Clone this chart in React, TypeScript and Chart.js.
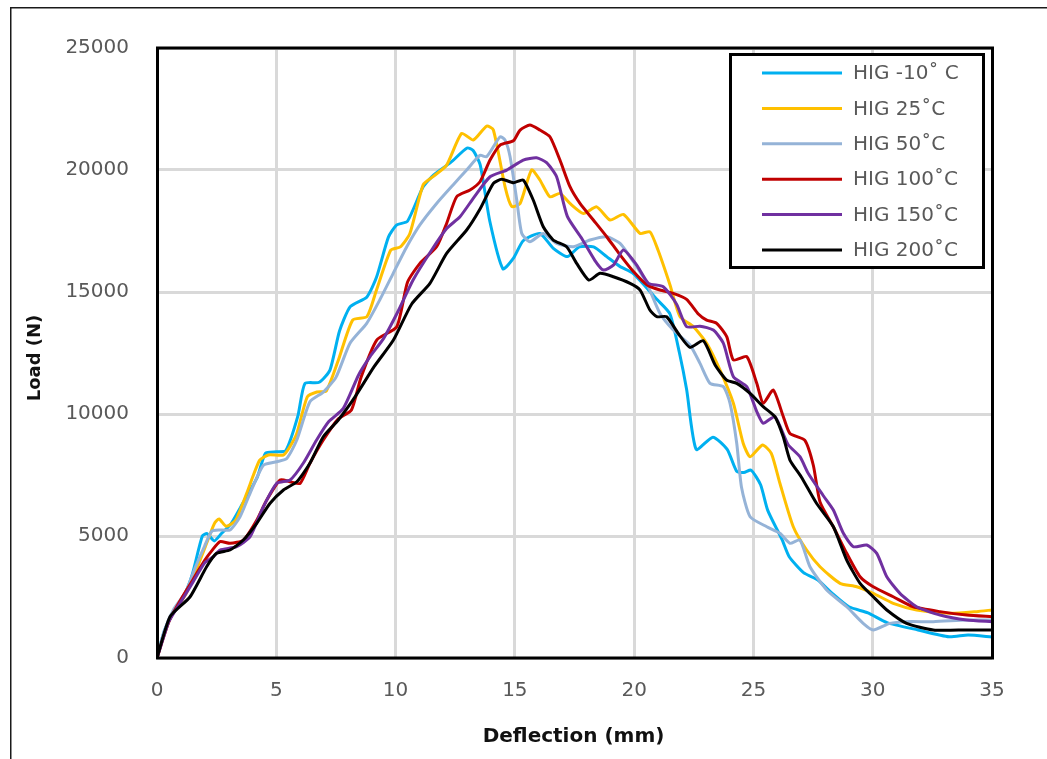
import React, { useEffect, useRef } from "react";
import { Chart, registerables } from "chart.js";

Chart.register(...registerables);

const W = 1047;
const H = 759;

// Axis ranges / ticks
const xTickValues = [0, 5, 10, 15, 20, 25, 30, 35];
const yTickValues = [0, 5000, 10000, 15000, 20000, 25000];

// Series
const seriesNames = ["HIG -10˚ C", "HIG 25˚C", "HIG 50˚C", "HIG 100˚C", "HIG 150˚C", "HIG 200˚C"];
const seriesColors = ["#00b0f0", "#ffc000", "#95b3d7", "#c00000", "#7030a0", "#000000"];

const hig10X = [0, 0.3, 0.7, 1.2, 1.5, 1.9, 2.1, 2.4, 2.7, 3.1, 3.6, 4.2, 4.55, 5.0, 5.4, 5.9, 6.2, 6.8, 7.25, 7.65, 8.1, 8.8, 9.2, 9.7, 10.05, 10.5, 11.15, 11.6, 12.3, 13.0, 13.25, 13.55, 13.95, 14.5, 14.95, 15.35, 16.05, 16.6, 17.2, 17.7, 18.3, 18.85, 19.4, 19.95, 20.5, 20.95, 21.5, 21.9, 22.2, 22.6, 23.3, 23.9, 24.3, 24.6, 24.9, 25.3, 25.6, 26.2, 26.5, 27.1, 27.7, 28.3, 29.0, 29.8, 30.6, 31.9, 33.2, 34.0, 35.0];
const hig10Y = [0, 1100, 1900, 2700, 3500, 5000, 5100, 4800, 5100, 5500, 6350, 7400, 8400, 8450, 8500, 9900, 11250, 11300, 11800, 13400, 14400, 14800, 15600, 17250, 17750, 17900, 19300, 19800, 20300, 20900, 20800, 20200, 17900, 15950, 16400, 17100, 17400, 16800, 16450, 16850, 16850, 16450, 16050, 15770, 15200, 14700, 14100, 12500, 11000, 8550, 9050, 8550, 7650, 7600, 7700, 7100, 6050, 4850, 4150, 3500, 3200, 2650, 2100, 1850, 1450, 1150, 870, 940, 860];

const hig25X = [0, 0.3, 0.7, 1.2, 1.6, 2.0, 2.4, 2.6, 2.9, 3.3, 3.76, 4.3, 4.67, 5.3, 5.57, 5.86, 6.3, 6.7, 7.1, 7.6, 8.2, 8.8, 9.2, 9.8, 10.2, 10.6, 11.16, 11.6, 12.14, 12.77, 13.26, 13.82, 14.1, 14.59, 14.87, 15.22, 15.7, 16.05, 16.47, 16.89, 17.31, 17.87, 18.43, 18.99, 19.55, 20.25, 20.66, 21.0, 21.5, 21.92, 22.48, 23.04, 23.6, 24.16, 24.57, 24.86, 25.38, 25.75, 26.11, 26.67, 27.23, 27.79, 28.63, 29.33, 30.02, 30.86, 31.84, 33.24, 34.36, 35.0];
const hig25Y = [0, 1000, 1900, 2600, 3500, 4500, 5500, 5700, 5400, 5650, 6750, 8100, 8320, 8320, 8660, 9200, 10700, 10900, 10950, 12200, 13850, 13990, 15080, 16720, 16850, 17400, 19400, 19750, 20200, 21500, 21230, 21800, 21640, 19310, 18500, 18630, 20000, 19590, 18900, 19040, 18630, 18220, 18490, 17950, 18180, 17400, 17470, 16720, 15300, 13990, 13580, 12900, 11800, 10440, 8800, 8250, 8730, 8390, 7160, 5380, 4425, 3740, 3060, 2920, 2650, 2240, 1970, 1830, 1900, 1970];

const hig50X = [0, 0.3, 0.7, 1.2, 1.6, 2.0, 2.3, 2.6, 3.06, 3.48, 3.9, 4.46, 5.02, 5.44, 5.86, 6.41, 6.97, 7.5, 8.09, 8.79, 9.35, 9.9, 10.47, 11.02, 11.72, 12.42, 12.98, 13.54, 13.82, 14.38, 14.59, 14.8, 15.08, 15.29, 15.63, 16.19, 16.75, 17.45, 18.15, 18.85, 19.41, 19.96, 20.53, 21.08, 21.64, 22.34, 22.76, 23.18, 23.74, 24.02, 24.3, 24.5, 24.86, 25.56, 26.11, 26.53, 26.95, 27.37, 28.07, 28.91, 29.6, 30.02, 30.72, 31.42, 32.54, 33.94, 35.0];
const hig50Y = [0, 1100, 2000, 2700, 3700, 4600, 5200, 5250, 5250, 5790, 6750, 7900, 8045, 8180, 8933, 10500, 10900, 11500, 12900, 13716, 14700, 15765, 16855, 17750, 18630, 19400, 20000, 20600, 20545, 21363, 21227, 20545, 18770, 17400, 17060, 17400, 16990, 16855, 17130, 17265, 16990, 16250, 15355, 14126, 13440, 12830, 12076, 11257, 11120, 10437, 8800, 7000, 5790, 5380, 5110, 4700, 4835, 3740, 2787, 2100, 1420, 1150, 1420, 1490, 1490, 1557, 1557];

const hig100X = [0, 0.5, 1.0, 1.5, 2.0, 2.3, 2.64, 3.06, 3.62, 4.18, 4.6, 5.16, 5.58, 6.0, 6.41, 6.97, 7.6, 8.15, 8.55, 9.21, 10.05, 10.5, 11.02, 11.72, 12.14, 12.56, 13.12, 13.54, 13.96, 14.38, 14.94, 15.22, 15.63, 16.05, 16.47, 16.89, 17.31, 17.73, 18.29, 18.85, 19.41, 19.96, 20.53, 21.08, 21.64, 22.2, 22.69, 23.04, 23.46, 23.88, 24.16, 24.72, 25.14, 25.41, 25.83, 26.25, 26.53, 27.15, 27.51, 27.79, 28.35, 28.91, 29.47, 30.02, 30.86, 31.7, 32.82, 33.94, 35.0];
const hig100Y = [0, 1500, 2400, 3200, 4000, 4400, 4770, 4700, 4835, 5650, 6475, 7295, 7225, 7160, 7980, 8933, 9800, 10163, 11500, 13032, 13577, 15400, 16175, 16855, 17810, 18904, 19180, 19520, 20408, 21022, 21200, 21637, 21842, 21637, 21363, 20408, 19314, 18630, 17950, 17265, 16520, 15850, 15300, 15080, 14943, 14700, 14100, 13850, 13716, 13167, 12212, 12350, 11257, 10437, 10983, 9900, 9200, 8930, 7900, 6400, 5380, 4290, 3330, 2920, 2510, 2100, 1900, 1760, 1690];

const hig150X = [0, 0.5, 1.0, 1.5, 2.0, 2.36, 2.64, 3.34, 3.9, 4.46, 5.02, 5.58, 6.13, 6.69, 7.2, 7.81, 8.45, 8.93, 9.5, 10.1, 10.74, 11.5, 12.14, 12.7, 13.3, 13.96, 14.66, 15.35, 15.91, 16.33, 16.75, 17.2, 17.8, 18.35, 18.71, 19.13, 19.55, 20.11, 20.6, 21.22, 21.78, 22.2, 22.76, 23.32, 23.74, 24.16, 24.72, 25.14, 25.41, 25.9, 26.45, 26.95, 27.3, 27.93, 28.35, 28.77, 29.19, 29.75, 30.17, 30.59, 31.14, 31.84, 32.82, 33.94, 35.0];
const hig150Y = [0, 1500, 2300, 3100, 3900, 4150, 4426, 4560, 4970, 6200, 7160, 7295, 7980, 8933, 9690, 10230, 11600, 12350, 13100, 14200, 15500, 16700, 17600, 18085, 18900, 19724, 19998, 20408, 20500, 20300, 19724, 18100, 17200, 16300, 15900, 16100, 16720, 16100, 15355, 15216, 14500, 13577, 13600, 13440, 12900, 11530, 11120, 10100, 9620, 9890, 8750, 8250, 7560, 6650, 6065, 5110, 4560, 4630, 4290, 3330, 2650, 2100, 1760, 1557, 1490];

const hig200X = [0, 0.55, 1.38, 2.08, 2.5, 3.06, 3.62, 4.18, 4.74, 5.3, 5.86, 6.41, 6.97, 7.6, 8.3, 9.1, 9.91, 10.67, 11.44, 12.14, 12.98, 13.54, 14.1, 14.45, 14.94, 15.35, 15.77, 16.19, 16.61, 17.17, 17.59, 18.1, 18.57, 19.13, 19.83, 20.25, 20.66, 20.95, 21.36, 21.85, 22.34, 22.9, 23.4, 23.88, 24.3, 24.86, 25.41, 25.9, 26.25, 26.53, 27.0, 27.65, 28.35, 28.91, 29.47, 30.02, 30.59, 31.42, 32.54, 33.94, 35.0];
const hig200Y = [0, 1700, 2500, 3740, 4290, 4426, 4835, 5520, 6340, 6885, 7225, 7980, 9069, 9753, 10700, 11940, 13032, 14500, 15355, 16580, 17540, 18400, 19450, 19620, 19480, 19590, 18770, 17675, 17130, 16855, 16175, 15490, 15765, 15626, 15355, 15080, 14260, 13987, 13987, 13300, 12730, 13000, 12000, 11390, 11257, 10845, 10300, 9890, 9069, 8114, 7430, 6330, 5380, 4016, 3060, 2510, 1967, 1420, 1150, 1150, 1150];

const seriesX = [hig10X, hig25X, hig50X, hig100X, hig150X, hig200X];
const seriesY = [hig10Y, hig25Y, hig50Y, hig100Y, hig150Y, hig200Y];

const xTitle = "Deflection (mm)";
const yTitle = "Load (N)";

const FONT = "'DejaVu Sans', sans-serif";

const decorPlugin = {
  id: "decor",
  afterDraw(chart: any) {
    const ctx = chart.ctx as CanvasRenderingContext2D;
    const a = chart.chartArea;
    ctx.save();
    // outer frame (top & left edges)
    ctx.strokeStyle = "#1a1a1a";
    ctx.lineWidth = 1.5;
    ctx.beginPath();
    ctx.moveTo(10.75, H + 2);
    ctx.lineTo(10.75, 7.75);
    ctx.lineTo(W + 2, 7.75);
    ctx.stroke();

    // plot area border
    ctx.strokeStyle = "#000";
    ctx.lineWidth = 3;
    ctx.strokeRect(a.left + 0.5, a.top, a.right - a.left, a.bottom - a.top);

    // axis titles
    ctx.fillStyle = "#111";
    ctx.textAlign = "center";
    ctx.textBaseline = "middle";
    ctx.font = `bold 20px ${FONT}`;
    ctx.fillText(xTitle, (a.left + a.right) / 2 - 1, 737);
    ctx.save();
    ctx.translate(35, (a.top + a.bottom) / 2 + 5);
    ctx.rotate(-Math.PI / 2);
    ctx.font = `bold 18px ${FONT}`;
    ctx.fillText(yTitle, 0, 0);
    ctx.restore();

    // legend box
    const lx = 729, ly = 53, lw = 256, lh = 216;
    ctx.fillStyle = "#fff";
    ctx.fillRect(lx, ly, lw, lh);
    ctx.strokeStyle = "#000";
    ctx.lineWidth = 3;
    ctx.strokeRect(lx + 1.5, ly + 1.5, lw - 3, lh - 3);
    ctx.font = `20px ${FONT}`;
    ctx.textAlign = "left";
    ctx.textBaseline = "middle";
    seriesNames.forEach((name, i) => {
      const y = 73 + i * 35.4;
      ctx.strokeStyle = seriesColors[i];
      ctx.lineWidth = 3;
      ctx.beginPath();
      ctx.moveTo(762, y);
      ctx.lineTo(842, y);
      ctx.stroke();
      ctx.fillStyle = "#595959";
      ctx.fillText(name, 853, y + 1);
    });
    ctx.restore();
  },
};

export default function App() {
  const ref = useRef<HTMLCanvasElement | null>(null);

  useEffect(() => {
    if (!ref.current) return;
    const datasets = seriesNames.map((name, i) => ({
      label: name,
      data: seriesX[i].map((x, j) => ({ x, y: seriesY[i][j] })),
      borderColor: seriesColors[i],
      backgroundColor: seriesColors[i],
      borderWidth: 3,
      pointRadius: 0,
      tension: 0.2,
      fill: false,
      order: seriesNames.length - i,
    }));
    const chart = new Chart(ref.current, {
      type: "line",
      data: { datasets },
      options: {
        responsive: false,
        animation: false,
        devicePixelRatio: 1,
        layout: { padding: { left: 0, top: 48, right: 55, bottom: 0 } },
        plugins: { legend: { display: false }, tooltip: { enabled: false } },
        scales: {
          x: {
            type: "linear",
            min: xTickValues[0],
            max: xTickValues[xTickValues.length - 1],
            afterBuildTicks: (s: any) => {
              s.ticks = xTickValues.map((v) => ({ value: v }));
            },
            afterFit: (s: any) => {
              s.height = H - 658;
            },
            ticks: {
              color: "#595959",
              font: { family: FONT, size: 20 },
              padding: 21,
              maxRotation: 0,
              autoSkip: false,
            },
            grid: { color: "#d9d9d9", lineWidth: 3, drawTicks: false },
            border: { display: false },
          },
          y: {
            type: "linear",
            min: yTickValues[0],
            max: yTickValues[yTickValues.length - 1],
            afterBuildTicks: (s: any) => {
              s.ticks = yTickValues.map((v) => ({ value: v }));
            },
            afterFit: (s: any) => {
              s.width = 157;
            },
            ticks: {
              color: "#595959",
              font: { family: FONT, size: 20 },
              padding: 28,
              autoSkip: false,
              callback: (v: any) => String(v),
            },
            grid: { color: "#d9d9d9", lineWidth: 3, drawTicks: false },
            border: { display: false },
          },
        },
      },
      plugins: [decorPlugin],
    });
    return () => chart.destroy();
  }, []);

  return (
    <div
      style={{
        position: "fixed",
        left: 0,
        top: 0,
        width: W,
        height: H,
        background: "#fff",
        overflow: "hidden",
      }}
    >
      <canvas ref={ref} width={W} height={H} style={{ width: W, height: H, display: "block" }} />
    </div>
  );
}
